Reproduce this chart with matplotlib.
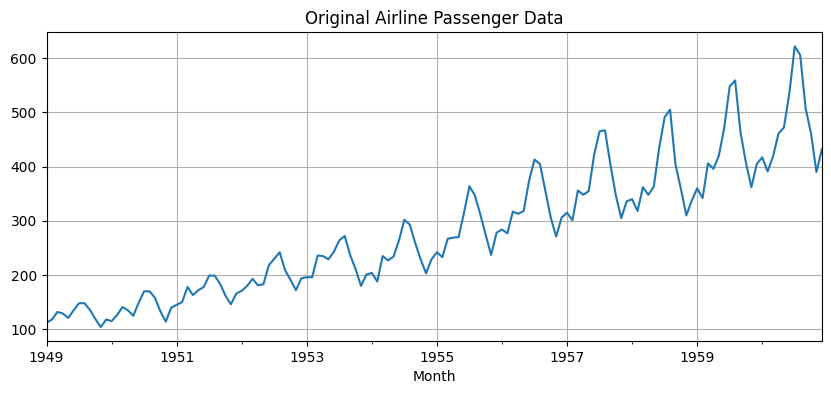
import numpy as np
import pandas as pd
import matplotlib
matplotlib.use("Agg")
import matplotlib.pyplot as plt

# Monthly airline passengers (thousands), 1949-1960
y1949 = [112, 118, 132, 129, 121, 135, 148, 148, 136, 119, 104, 118]
y1950 = [115, 126, 141, 135, 125, 149, 170, 170, 158, 133, 114, 140]
y1951 = [145, 150, 178, 163, 172, 178, 199, 199, 184, 162, 146, 166]
y1952 = [171, 180, 193, 181, 183, 218, 230, 242, 209, 191, 172, 194]
y1953 = [196, 196, 236, 235, 229, 243, 264, 272, 237, 211, 180, 201]
y1954 = [204, 188, 235, 227, 234, 264, 302, 293, 259, 229, 203, 229]
y1955 = [242, 233, 267, 269, 270, 315, 364, 347, 312, 274, 237, 278]
y1956 = [284, 277, 317, 313, 318, 374, 413, 405, 355, 306, 271, 306]
y1957 = [315, 301, 356, 348, 355, 422, 465, 467, 404, 347, 305, 336]
y1958 = [340, 318, 362, 348, 363, 435, 491, 505, 404, 359, 310, 337]
y1959 = [360, 342, 406, 396, 420, 472, 548, 559, 463, 407, 362, 405]
y1960 = [417, 391, 419, 461, 472, 535, 622, 606, 508, 461, 390, 432]

passengers = (y1949 + y1950 + y1951 + y1952 + y1953 + y1954
              + y1955 + y1956 + y1957 + y1958 + y1959 + y1960)
months = pd.date_range("1949-01-01", periods=len(passengers), freq="MS", name="Month")
series = pd.Series(passengers, index=months, name="Passengers")

fig, ax = plt.subplots(figsize=(8.31, 3.93), dpi=100)
fig.subplots_adjust(left=0.056, right=0.989, top=0.918, bottom=0.132)
series.plot(ax=ax, color="#1f77b4")
ax.set_title("Original Airline Passenger Data")
ax.grid(True)
fig.savefig("out.png")
